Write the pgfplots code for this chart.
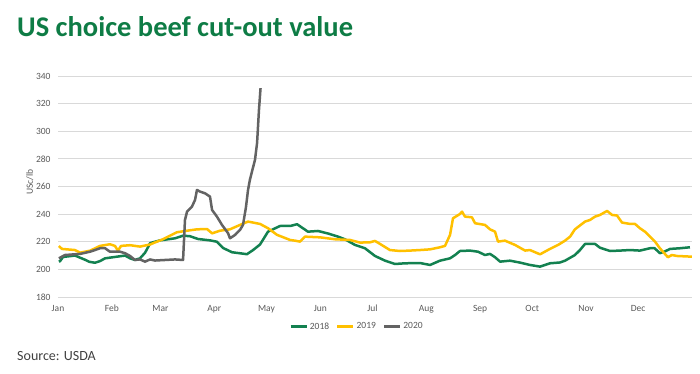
\documentclass[border=0pt]{standalone}
\usepackage{fontspec}
\setmainfont{Carlito}
\usepackage{pgfplots}
\pgfplotsset{compat=1.18}
\definecolor{cgreen}{HTML}{138150}
\definecolor{cyellow}{HTML}{FFC000}
\definecolor{cgray}{HTML}{636363}
\definecolor{tgreen}{HTML}{0E7C45}
\definecolor{lbl}{HTML}{595959}
\definecolor{gridc}{HTML}{D9D9D9}
\definecolor{srcc}{HTML}{404040}
\begin{document}
\begin{tikzpicture}[x=1bp,y=1bp]
\useasboundingbox (0,0) rectangle (700,373);
\node[anchor=base west, text=tgreen, font=\fontsize{28.5bp}{30bp}\selectfont\bfseries, inner sep=0] at (17,337) {US choice beef cut-out value};
\node[anchor=base west, text=srcc, font=\fontsize{14bp}{16bp}\selectfont, inner sep=0] at (17,13) {Source: USDA};
\begin{axis}[at={(58bp,76bp)}, anchor=south west, scale only axis,
  width=634bp, height=221bp,
  xmin=0, xmax=365, ymin=180, ymax=340,
  ytick={180,200,...,340},
  xtick={0,31,59,90,120,151,181,212,243,273,304,334},
  xticklabels={Jan,Feb,Mar,Apr,May,Jun,Jul,Aug,Sep,Oct,Nov,Dec},
  axis line style={draw=none}, major tick length=0pt,
  ymajorgrids, grid style={gridc, line width=0.9bp},
  /pgf/number format/assume math mode=true,
  tick label style={font=\fontsize{9.5bp}{11bp}\selectfont, text=lbl},
  yticklabel style={xshift=-4bp},
  xticklabel style={yshift=-4bp, text height=7bp, text depth=2bp},
  ylabel={USc/lb},
  ylabel style={at={(axis description cs:-0.0445,0.52)}, anchor=center, font=\fontsize{9.5bp}{11bp}\selectfont, text=lbl},
  legend style={at={(axis description cs:0.4716,-0.134)}, anchor=center, draw=none, fill=none,
    legend columns=-1, font=\fontsize{9.5bp}{11bp}\selectfont, text=lbl,
    /tikz/every even column/.append style={column sep=5bp}, inner sep=0pt},
  legend image code/.code={\draw[#1] (0bp,0bp) -- (16bp,0bp);},
  every axis plot/.append style={line width=2.5bp, line join=round},
]
\addplot[cgreen] coordinates {
(0.5,205.6)(1.2,206)(2.9,209)(9.8,210)(15.5,207)(18,205.5)(21.3,204.8)(24.2,206)(27.1,208)(32.8,209)(38.6,210)(41.5,208)(44.3,206.8)(47.2,208)(50.1,212)(51.8,216)(53,219)(58.7,221)(67.4,222.5)(72,224.4)(76,224)(80.6,222)(87.5,221)(91.5,220)(95,215.5)(100.2,212.4)(108.8,211)(112.3,214)(116.3,218)(120.9,227.3)(127.8,231.4)(134,231.5)(137.6,232.7)(143.9,227.3)(149.7,227.8)(155.4,226)(161.2,223.7)(165.2,221.8)(171,217.7)(176.7,215.3)(182.5,209.7)(188.3,206.3)(194,203.9)(199.8,204.4)(208.4,204.6)(214.2,203.2)(219.9,206.3)(225.7,208)(228.6,210.4)(231.4,213.3)(237.2,213.6)(241.8,212.8)(245.8,210.4)(248.7,211.2)(251.6,208.8)(254.5,205.6)(260.2,206.3)(266,204.9)(271.7,203.2)(277.5,202)(283.2,204.4)(289,205)(291.9,206.3)(297.6,210.4)(300.5,214)(303.4,218.4)(309.2,218.4)(312,215.7)(317.8,213.3)(323.5,213.6)(329.3,214)(335,213.6)(340.8,215.3)(343.5,215.3)(346.5,211.7)(349.4,213)(352.3,214.8)(358.1,215.3)(363.8,216)};
\addlegendentry{2018}
\addplot[cyellow] coordinates {
(0.5,216.9)(2.3,214.8)(9.8,214)(12.7,212.1)(18.4,213.5)(24.2,217)(29.9,218.2)(32.8,217)(34.5,213.5)(36.3,217)(41.5,217.5)(47.2,216.5)(53,218)(55.8,219.5)(60.4,221.8)(68.5,226.9)(74.3,228)(80,229)(85.8,229.2)(88.7,226.1)(93.3,228)(99,229)(104.8,232.2)(109.4,234.6)(116.3,232.9)(120.9,229.8)(126.1,225)(133.6,221.3)(136.4,220.8)(139.3,220.1)(142.2,223.7)(150.8,223.2)(159.5,221.8)(168.1,221.3)(173.9,219.4)(179.6,219.6)(182.5,220.6)(185.4,218.4)(191.1,214)(196.9,213.3)(202.6,213.6)(208.4,214)(214.2,214.5)(219.9,216)(222.8,217)(225.7,225)(227.4,237)(231.4,240.1)(232.6,241.8)(234.3,238.2)(238.3,237.7)(240.1,233.4)(245.8,232.2)(248.7,229)(251.6,227.3)(253.3,220.1)(257.3,220.8)(263.1,217.7)(268.9,213.6)(271.7,214)(277.5,210.9)(283.2,214.8)(287.9,217.7)(291.9,220.8)(294.8,223.7)(297.6,229)(303.4,234.6)(306.3,235.8)(309.2,238.2)(312,239.4)(316.1,242.3)(319,239.4)(321.8,239)(324.7,233.9)(329.3,232.9)(332.2,232.9)(335,229.8)(337.9,227.3)(343.7,220.1)(346.5,215.3)(351.1,208.8)(353.4,210.4)(356.3,209.7)(364.9,209.2)};
\addlegendentry{2019}
\addplot[cgray] coordinates {
(0.5,208)(4,210.4)(12.7,211.2)(18.4,212.8)(21.3,214)(24.2,215.3)(27.1,215.3)(29.9,212.8)(35.7,212.8)(38.6,211.7)(41.5,209.7)(44.3,206.8)(47.2,207.2)(50.1,205.6)(53,207.2)(55.8,206.4)(61.6,206.8)(67.4,207.2)(72,206.8)(73.1,235.8)(74.3,241.8)(77.1,245.4)(78.9,250.3)(80,257.5)(81.8,256.3)(84.6,255.1)(87.5,252.7)(88.7,243)(91.5,238.2)(94.4,232.2)(97.9,226.2)(99,222.5)(101.9,224.9)(104.8,228.6)(106.5,232.2)(108.2,245)(109.4,257.5)(110.5,265)(113.4,279.3)(114.6,291.4)(115.7,315.5)(116.6,331.2)};
\addlegendentry{2020}
\end{axis}
\end{tikzpicture}
\end{document}
